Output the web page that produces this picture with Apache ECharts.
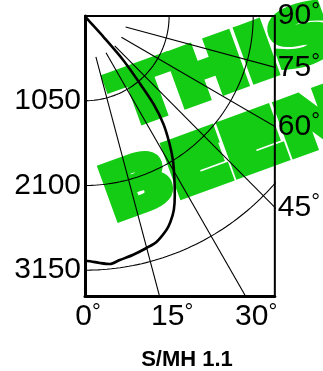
<!DOCTYPE html>
<html>
<head>
<meta charset="utf-8">
<script src="https://cdn.jsdelivr.net/npm/echarts@6/dist/echarts.min.js"></script>
<style>
  html, body { margin: 0; padding: 0; background: #fff; }
  #chart { width: 323px; height: 371px; }
</style>
</head>
<body>
<div id="chart"></div>
<script>
// depth marks (left) and range circles
const depthTicks = [1050, 2100, 3150];
const circleRadii = [1050, 2100, 3150];
// angle labels along the bottom and on the right side
const bottomLabels = ['0', '15', '30'];
const sideAngles = [90, 75, 60, 45];
// rays, in degrees from the vertical, and where they start
const rayAngles = [15, 30, 45, 60, 75];
const rayStart = 525;

// the thick curve (offset, depth)
const curveX = [0, 28, 235, 483, 690, 855, 979, 1053, 1097, 1115, 1121, 1109, 1066, 1016, 892, 768, 595, 434, 310, 186, 25, 0];
const curveY = [0, 37, 264, 554, 843, 1090, 1338, 1574, 1784, 1995, 2218, 2404, 2553, 2652, 2800, 2875, 2962, 3024, 3073, 3061, 3036, 3036];

const xMax = 2370;
const yMax = 3470;

const rad = Math.PI / 180;
const font = '"Liberation Sans", Arial, sans-serif';

function arcData(r) {
  const pts = [];
  for (let a = 0; a <= 90; a += 1) {
    pts.push([r * Math.sin(a * rad), r * Math.cos(a * rad)]);
  }
  return pts;
}

function rayData(a) {
  const far = 6000;
  return [
    [rayStart * Math.sin(a * rad), rayStart * Math.cos(a * rad)],
    [far * Math.sin(a * rad), far * Math.cos(a * rad)]
  ];
}

// depth where a ray leaves through the right side of the box
const sideValues = sideAngles.map(a => (a === 90 ? 0 : xMax / Math.tan(a * rad)));

const degRich = {
  n: { fontSize: 30, fontFamily: font, color: '#000' },
  d: { fontSize: 22, fontFamily: font, color: '#000', verticalAlign: 'top' }
};

const thin = { color: '#000', width: 1.1 };

const series = [];
circleRadii.forEach(r => {
  series.push({ type: 'line', data: arcData(r), showSymbol: false, silent: true, lineStyle: thin, z: 3 });
});
rayAngles.forEach(a => {
  series.push({ type: 'line', data: rayData(a), showSymbol: false, silent: true, lineStyle: thin, z: 3 });
});
series.push({
  type: 'line',
  data: curveX.map((x, i) => [x, curveY[i]]),
  smooth: 0.3,
  showSymbol: false,
  silent: true,
  lineStyle: { color: '#000', width: 2.6 },
  z: 4
});

const green = '#14cc14';
const wmStyle = {
  font: 'bold 70px "DejaVu Sans", sans-serif',
  fill: green, stroke: green, lineWidth: 10, lineJoin: 'miter',
  textAlign: 'left', textVerticalAlign: 'middle', align: 'left', verticalAlign: 'middle'
};

const chart = echarts.init(document.getElementById('chart'));
chart.setOption({
  animation: false,
  grid: {
    left: 85, top: 16, right: 47, bottom: 75,
    show: true, borderColor: '#000', borderWidth: 2, backgroundColor: 'transparent'
  },
  xAxis: {
    type: 'value',
    min: 0, max: xMax, interval: 1050,
    splitLine: { show: false },
    axisTick: { show: false },
    axisLine: { onZero: false, lineStyle: { color: '#000', width: 3 } },
    axisLabel: {
      showMaxLabel: false,
      margin: 6,
      padding: [0, 0, 0, 6],
      formatter: v => '{n|' + bottomLabels[Math.round(v / 1050)] + '}{d|°}',
      rich: degRich
    }
  },
  yAxis: [
    {
      type: 'value',
      inverse: true,
      min: 0, max: yMax, interval: 1050,
      splitLine: { show: false },
      axisTick: { show: false },
      axisLine: { show: true, onZero: false, lineStyle: { color: '#000', width: 3 } },
      axisLabel: {
        showMinLabel: false,
        showMaxLabel: false,
        margin: 4,
        fontSize: 30,
        fontFamily: font,
        color: '#000',
        formatter: v => (depthTicks.includes(v) ? String(v) : '')
      }
    },
    {
      type: 'value',
      position: 'right',
      inverse: true,
      min: 0, max: yMax,
      splitLine: { show: false },
      axisTick: { show: false },
      axisLine: { show: false },
      axisLabel: {
        customValues: sideValues,
        showMinLabel: true,
        hideOverlap: false,
        margin: 3,
        formatter: v => {
          let best = 0;
          sideValues.forEach((s, i) => { if (Math.abs(s - v) < Math.abs(sideValues[best] - v)) best = i; });
          return '{n|' + sideAngles[best] + '}{d|°}';
        },
        rich: degRich
      }
    }
  ],
  graphic: [
    {
      type: 'text', x: 119, y: 109, rotation: 20 * rad, scaleX: 1.25, z: -1,
      style: Object.assign({ text: 'THIS' }, wmStyle)
    },
    {
      type: 'text', x: 108, y: 202, rotation: 20 * rad, scaleX: 1.25, z: -1,
      style: Object.assign({ text: 'BEEN' }, wmStyle)
    },
    {
      type: 'text', x: 187, y: 360, z: 5,
      style: { text: 'S/MH 1.1', font: 'bold 22px ' + font, fill: '#000', textAlign: 'center', textVerticalAlign: 'middle', align: 'center', verticalAlign: 'middle' }
    }
  ],
  series: series
});
</script>
</body>
</html>
